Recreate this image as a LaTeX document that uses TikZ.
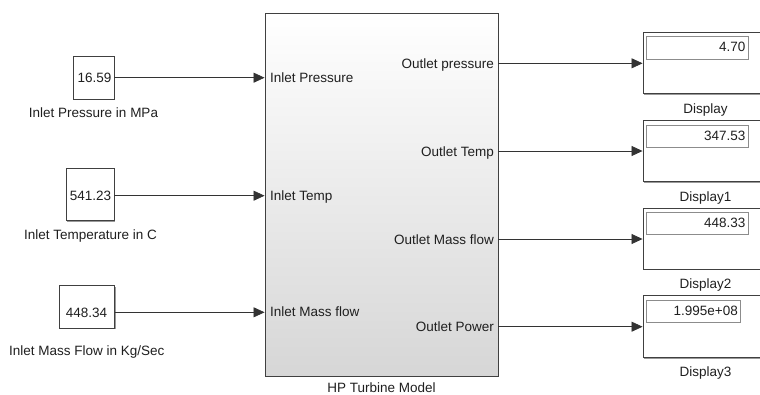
\documentclass[tikz,border=0pt]{standalone}
\usepackage{fontspec}
\setmainfont{Liberation Sans}
\usetikzlibrary{shadows,arrows.meta}
\begin{document}
\begin{tikzpicture}[x=1pt,y=-1pt,
  txt/.style={font=\fontsize{13.5}{16}\selectfont, inner sep=0pt, text=black!88},
  blk/.style={draw=black!75, line width=0.9pt, fill=white, inner sep=0pt,
     drop shadow={shadow xshift=1.3pt, shadow yshift=-1.3pt, opacity=0.4, fill=black}},
  field/.style={draw=black!45, line width=0.6pt, fill=white, inner sep=0pt},
  sig/.style={draw=black!80, line width=0.8pt, -{Triangle[length=11pt,width=10pt]}}]

\useasboundingbox (0,0) rectangle (760,394);
\clip (0,0) rectangle (760,394);

% main block
\node[blk, top color=white, bottom color=black!16, minimum width=233pt, minimum height=363pt] (hp) at (381.5,194.6) {};
\node[txt, anchor=base] (hpl) at (381.5,392) {HP Turbine Model};

% port labels
\node[txt, anchor=base west] (pi1) at (270,82.7) {Inlet Pressure};
\node[txt, anchor=base west] (pi2) at (270,200.7) {Inlet Temp};
\node[txt, anchor=base west] (pi3) at (270,316.7) {Inlet Mass flow};
\node[txt, anchor=base east] (po1) at (494,68.3) {Outlet pressure};
\node[txt, anchor=base east] (po2) at (494,156) {Outlet Temp};
\node[txt, anchor=base east] (po3) at (494,244) {Outlet Mass flow};
\node[txt, anchor=base east] (po4) at (494,331.7) {Outlet Power};

% constants
\node[blk, minimum width=41pt, minimum height=43pt] (c1) at (93.5,77.5) {};
\node[txt, anchor=base] (v1) at (94.5,82.3) {16.59};
\node[txt, anchor=base] (l1) at (93.5,117.3) {Inlet Pressure in MPa};

\node[blk, minimum width=48pt, minimum height=52.4pt] (c2) at (90,194.5) {};
\node[txt, anchor=base] (v2) at (90.5,200.2) {541.23};
\node[txt, anchor=base] (l2) at (90.5,239) {Inlet Temperature in C};

\node[blk, minimum width=55pt, minimum height=42.3pt] (c3) at (86.8,306.9) {};
\node[txt, anchor=base] (v3) at (86.5,317.3) {448.34};
\node[txt, anchor=base] (l3) at (86.7,355.7) {Inlet Mass Flow in Kg/Sec};

% displays
\node[blk, minimum width=125pt, minimum height=61pt] (d1) at (705.5,62.8) {};
\node[field, minimum width=101.6pt, minimum height=22.3pt] (f1) at (697.5,47.85) {};
\node[txt, anchor=base east] (n1) at (745.5,51.7) {4.70};
\node[txt, anchor=base] (dl1) at (705.5,113.5) {Display};

\node[blk, minimum width=125pt, minimum height=61pt] (d2) at (705.5,151.2) {};
\node[field, minimum width=101.6pt, minimum height=22.3pt] (f2) at (697.5,136.25) {};
\node[txt, anchor=base east] (n2) at (745.5,140.1) {347.53};
\node[txt, anchor=base] (dl2) at (705.5,201) {Display1};

\node[blk, minimum width=125pt, minimum height=61pt] (d3) at (705.5,238.5) {};
\node[field, minimum width=101.6pt, minimum height=22.3pt] (f3) at (697.5,223.55) {};
\node[txt, anchor=base east] (n3) at (745.5,227.4) {448.33};
\node[txt, anchor=base] (dl3) at (705.5,288.5) {Display2};

\node[blk, minimum width=125pt, minimum height=61.6pt] (d4) at (705.5,326.5) {};
\node[field, minimum width=93.3pt, minimum height=22.3pt] (f4) at (693.35,311.25) {};
\node[txt, anchor=base east] (n4) at (738,315.7) {1.995e+08};
\node[txt, anchor=base] (dl4) at (705.5,376) {Display3};

% signal rows
\path (0,77.7) coordinate (r1) (0,195.7) coordinate (r2) (0,312.3) coordinate (r3)
      (0,63.3) coordinate (q1) (0,151) coordinate (q2) (0,239) coordinate (q3) (0,326.7) coordinate (q4);

\draw[sig] (c1.east |- r1) -- (hp.west |- r1);
\draw[sig] (c2.east |- r2) -- (hp.west |- r2);
\draw[sig] (c3.east |- r3) -- (hp.west |- r3);
\draw[sig] (hp.east |- q1) -- (d1.west |- q1);
\draw[sig] (hp.east |- q2) -- (d2.west |- q2);
\draw[sig] (hp.east |- q3) -- (d3.west |- q3);
\draw[sig] (hp.east |- q4) -- (d4.west |- q4);
\end{tikzpicture}
\end{document}
